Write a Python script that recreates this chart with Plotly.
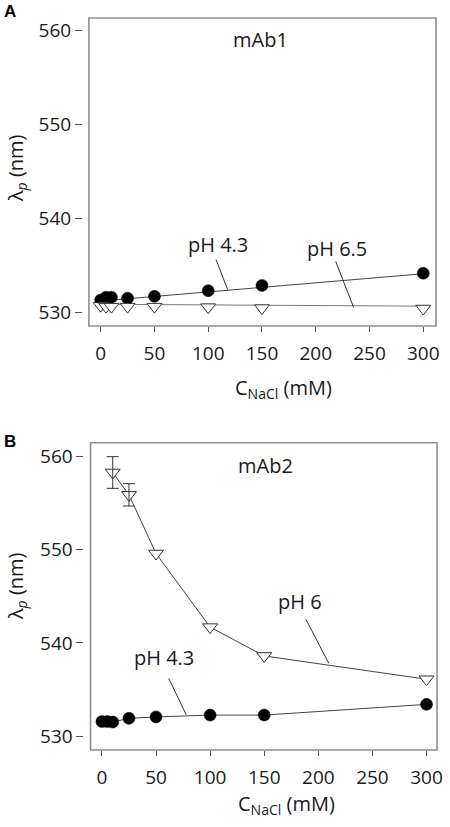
import plotly.graph_objects as go

# ---------------- data ----------------
# Panel A (mAb1)
a_ph43_x = [0, 5, 10, 25, 50, 100, 150, 300]
a_ph43_y = [531.3, 531.6, 531.6, 531.5, 531.7, 532.3, 532.85, 534.15]
a_ph43_fit_x = [0, 300]
a_ph43_fit_y = [531.2, 534.1]

a_ph65_x = [0, 5, 10, 25, 50, 100, 150, 300]
a_ph65_y = [530.7, 530.6, 530.6, 530.6, 530.6, 530.55, 530.45, 530.4]
a_ph65_fit_x = [0, 300]
a_ph65_fit_y = [530.85, 530.65]

# Panel B (mAb2)
b_ph6_x = [10, 25, 50, 100, 150, 300]
b_ph6_y = [558.3, 555.9, 549.6, 541.7, 538.6, 536.1]
b_ph6_err_x = [10, 25]
b_ph6_err_y = [558.3, 555.9]
b_ph6_err = [1.7, 1.2]

b_ph43_x = [0, 5, 10, 25, 50, 100, 150, 300]
b_ph43_y = [531.55, 531.55, 531.5, 531.9, 532.05, 532.25, 532.25, 533.4]

x_ticks = [0, 50, 100, 150, 200, 250, 300]
y_ticks = [530, 540, 550, 560]

# ---------------- layout helpers ----------------
W, H = 450, 827
ML, MR, MT, MB = 82, 5, 18, 77
PW, PH = W - ML - MR, H - MT - MB


def px(x):
    return (x - ML) / PW


def py(y):
    return (H - MB - y) / PH


FONT = "Open Sans"
TXT = "#1a1a1a"
FRAME = "#8f8f8f"
TICKC = "#555555"

fig = go.Figure()

# Panel A traces
fig.add_trace(go.Scatter(x=a_ph43_fit_x, y=a_ph43_fit_y, mode="lines",
                         line=dict(color="#444444", width=1), xaxis="x", yaxis="y",
                         showlegend=False, hoverinfo="skip"))
fig.add_trace(go.Scatter(x=a_ph65_fit_x, y=a_ph65_fit_y, mode="lines",
                         line=dict(color="#777777", width=1), xaxis="x", yaxis="y",
                         showlegend=False, hoverinfo="skip"))
fig.add_trace(go.Scatter(x=a_ph43_x, y=a_ph43_y, mode="markers",
                         marker=dict(symbol="circle", size=12, color="black",
                                     line=dict(color="black", width=0.5)),
                         xaxis="x", yaxis="y", showlegend=False))
fig.add_trace(go.Scatter(x=a_ph65_x, y=a_ph65_y, mode="markers",
                         marker=dict(symbol="triangle-down", size=13, color="white",
                                     line=dict(color="#333333", width=1)),
                         xaxis="x", yaxis="y", showlegend=False))

# Panel B traces
fig.add_trace(go.Scatter(x=b_ph43_x, y=b_ph43_y, mode="lines+markers",
                         line=dict(color="#444444", width=1),
                         marker=dict(symbol="circle", size=12, color="black",
                                     line=dict(color="black", width=0.5)),
                         xaxis="x2", yaxis="y2", showlegend=False))
fig.add_trace(go.Scatter(x=b_ph6_x, y=b_ph6_y, mode="lines+markers",
                         line=dict(color="#444444", width=1),
                         marker=dict(symbol="triangle-down", size=13, color="white",
                                     line=dict(color="#333333", width=1)),
                         xaxis="x2", yaxis="y2", showlegend=False))
fig.add_trace(go.Scatter(x=b_ph6_err_x, y=b_ph6_err_y, mode="markers",
                         marker=dict(size=1, opacity=0),
                         error_y=dict(type="data", array=b_ph6_err, visible=True,
                                      color="#333333", thickness=1, width=6),
                         xaxis="x2", yaxis="y2", showlegend=False, hoverinfo="skip"))

axis_common = dict(showgrid=False, zeroline=False, showline=False,
                   ticks="outside", tickcolor=TICKC, tickwidth=1,
                   tickfont=dict(family=FONT, size=19, color=TXT))

fig.update_layout(
    width=W, height=H,
    margin=dict(l=ML, r=MR, t=MT, b=MB),
    paper_bgcolor="white", plot_bgcolor="white",
    xaxis=dict(domain=[px(89), px(442)], range=[-10.98, 311.9], anchor="y",
               tickvals=x_ticks, ticklen=5, ticklabelstandoff=5, **axis_common),
    yaxis=dict(domain=[py(326), py(18)], range=[528.54, 561.31], anchor="free",
               position=px(82), tickvals=y_ticks, ticklen=7, **axis_common),
    xaxis2=dict(domain=[px(90.7), px(443)], range=[-10.5, 309.7], anchor="y2",
                tickvals=x_ticks, ticklen=5, ticklabelstandoff=5, **axis_common),
    yaxis2=dict(domain=[py(750), py(442.7)], range=[528.5, 561.5], anchor="free",
                position=px(83.5), tickvals=y_ticks, ticklen=7, **axis_common),
)

# frames
for xr, yr in [("x domain", "y domain"), ("x2 domain", "y2 domain")]:
    fig.add_shape(type="rect", xref=xr, yref=yr, x0=0, x1=1, y0=0, y1=1,
                  line=dict(color=FRAME, width=1.6), fillcolor="rgba(0,0,0,0)")

# pointer lines (annotation leaders)
pointers = [
    ("x", "y", 107.3, 535.6, 118.1, 532.4),
    ("x", "y", 218.6, 535.4, 235.3, 530.5),
    ("x2", "y2", 188.7, 542.5, 209.7, 537.8),
    ("x2", "y2", 61.7, 536.2, 77.8, 532.3),
]
for xr, yr, x0, y0, x1, y1 in pointers:
    fig.add_shape(type="line", xref=xr, yref=yr, x0=x0, y0=y0, x1=x1, y1=y1,
                  line=dict(color="#333333", width=1))

# text labels in data coordinates
labels = [
    ("x", "y", 148.2, 559.0, "mAb1"),
    ("x", "y", 108.8, 537.2, "pH 4.3"),
    ("x", "y", 220.0, 536.8, "pH 6.5"),
    ("x2", "y2", 151.3, 559.1, "mAb2"),
    ("x2", "y2", 183.2, 544.5, "pH 6"),
    ("x2", "y2", 57.2, 538.4, "pH 4.3"),
]
for xr, yr, x, y, t in labels:
    fig.add_annotation(xref=xr, yref=yr, x=x, y=y, text=t, showarrow=False,
                       xanchor="center", yanchor="middle",
                       font=dict(family=FONT, size=20, color=TXT))

# axis titles and panel letters (paper coords)
for cx, cy in [(287, 388), (290, 804)]:
    fig.add_annotation(xref="paper", yref="paper", x=px(cx), y=py(cy),
                       text="C<sub>NaCl</sub> (mM)", showarrow=False,
                       xanchor="center", yanchor="middle",
                       font=dict(family=FONT, size=20, color=TXT))
for cx, cy in [(15, 168), (15, 586)]:
    fig.add_annotation(xref="paper", yref="paper", x=px(cx), y=py(cy),
                       text="λ<sub><i>p</i></sub> (nm)", textangle=-90, showarrow=False,
                       xanchor="center", yanchor="middle",
                       font=dict(family=FONT, size=20, color=TXT))
for cx, cy, t in [(9, 11, "A"), (9, 441.5, "B")]:
    fig.add_annotation(xref="paper", yref="paper", x=px(cx), y=py(cy),
                       text="<b>%s</b>" % t, showarrow=False,
                       xanchor="center", yanchor="middle",
                       font=dict(family="Liberation Sans", size=17, color="black"))

fig.write_html("out.html", config={"displayModeBar": False},
               post_script="document.body.style.margin='0';")
